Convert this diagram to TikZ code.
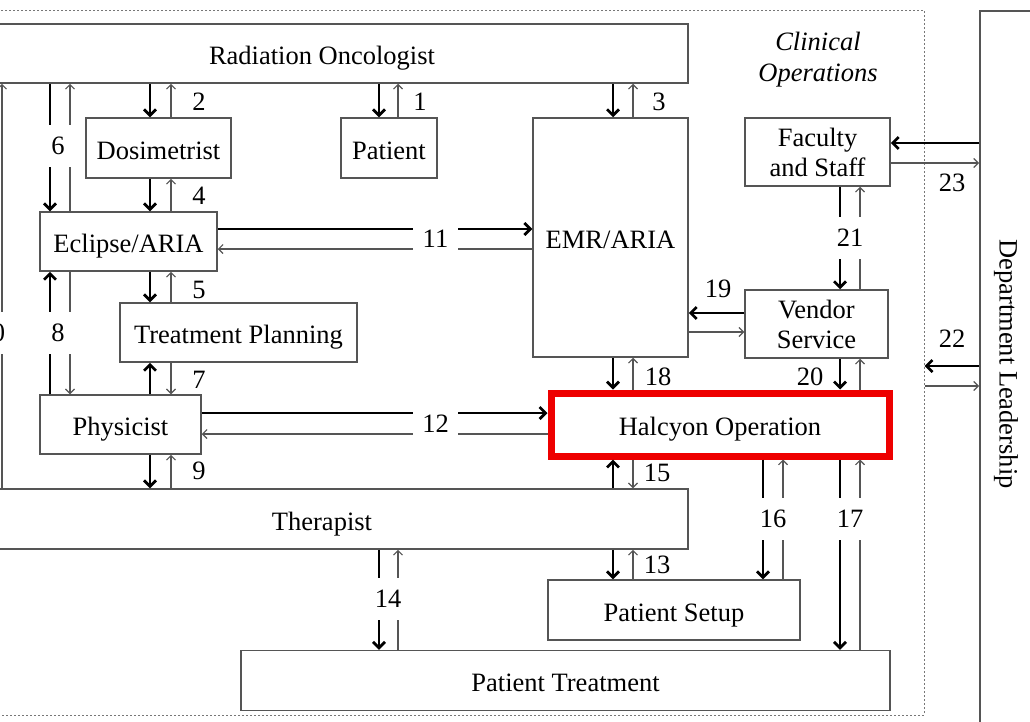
\documentclass[tikz,border=0pt]{standalone}
\usepackage{fontspec}
\setmainfont{Liberation Serif}
\usetikzlibrary{arrows.meta}
\definecolor{edgecol}{HTML}{555555}
\definecolor{thincol}{HTML}{555555}
\definecolor{dashcol}{HTML}{777777}
\definecolor{hred}{HTML}{EE0000}
\begin{document}
\begin{tikzpicture}[x=1pt,y=-1pt,
 every node/.style={font=\fontsize{26.5}{30}\selectfont},
 box/.style={draw=edgecol, line width=1.5pt, rectangle, inner sep=0pt, fill=white},
 onel/.style={text height=22pt, text depth=0pt},
 thk/.style={line width=2.8pt, black, -{Straight Barb[length=6pt,width=12pt]}},
 thn/.style={line width=1.1pt, thincol, -{Straight Barb[length=4.5pt,width=9pt]}},
 lbl/.style={inner sep=1pt},
 gaplbl/.style={fill=white, inner sep=0pt, minimum width=28pt, minimum height=42pt}
]
\useasboundingbox (0,0) rectangle (1030,721);
\clip (0,0) rectangle (1030,721);

% clinical operations frame
\node[draw=dashcol, line width=1pt, dash pattern=on 2pt off 2pt, inner sep=0pt,
      minimum width=934pt, minimum height=705pt] (clin) at (457,362.5) {};
\node[align=center, font=\fontsize{26.5}{31}\selectfont\itshape] (co) at (818,59.5) {Clinical\\Operations};

% boxes
\node[box, onel, minimum width=732pt, minimum height=59pt] (ro) at (322,53.5) {Radiation Oncologist};
\node[box, onel, minimum width=732pt, minimum height=60pt] (ther) at (322,519) {Therapist};
\node[box, onel, minimum width=145pt, minimum height=60pt] (dos) at (158.5,148) {Dosimetrist};
\node[box, onel, minimum width=96pt, minimum height=60pt] (pat) at (389,148) {Patient};
\node[box, onel, minimum width=155pt, minimum height=239pt] (emr) at (610.5,237.5) {EMR/ARIA};
\node[box, minimum width=145pt, minimum height=68pt, align=center] (fac) at (817.5,152) {Faculty\\and Staff};
\node[box, onel, minimum width=177pt, minimum height=59pt] (ecl) at (128.5,241.5) {Eclipse/ARIA};
\node[box, onel, minimum width=237pt, minimum height=59pt] (tp) at (238.5,332.5) {Treatment Planning};
\node[box, minimum width=143pt, minimum height=68pt, align=center] (ven) at (816.5,324) {Vendor\\Service};
\node[box, onel, minimum width=161pt, minimum height=59pt] (phy) at (120.5,424.5) {Physicist};
\node[draw=hred, onel, line width=7pt, fill=white, inner sep=0pt, minimum width=338pt, minimum height=63pt] (hal) at (720,424.5) {Halcyon Operation};
\node[box, onel, minimum width=252pt, minimum height=60pt] (ps) at (674,610) {Patient Setup};
\node[box, onel, minimum width=649pt, minimum height=60pt] (pt) at (565.5,680.5) {Patient Treatment};
\node[box, minimum width=54pt, minimum height=800pt, anchor=north west] (dl) at (979,10) {};
\node[rotate=-90] (dlt) at (1006,364) {Department Leadership};

% guide coordinates
\coordinate (xa) at (-18,0);
\coordinate (xb) at (2,0);
\coordinate (x50) at (50,0);
\coordinate (x70) at (70,0);
\coordinate (x150) at (150,0);
\coordinate (x171) at (171,0);
\coordinate (x379) at (379,0);
\coordinate (x398) at (398,0);
\coordinate (x613) at (613,0);
\coordinate (x633) at (633,0);
\coordinate (x763) at (763,0);
\coordinate (x783) at (783,0);
\coordinate (x840) at (840,0);
\coordinate (x860) at (860,0);
\coordinate (y143) at (0,143);
\coordinate (y163) at (0,163);
\coordinate (y229) at (0,229);
\coordinate (y249) at (0,249);
\coordinate (y313) at (0,313);
\coordinate (y332) at (0,332);
\coordinate (y366) at (0,366);
\coordinate (y386) at (0,386);
\coordinate (y413) at (0,413);
\coordinate (y434) at (0,434);

% 1
\draw[thk] (x379 |- ro.south) -- (x379 |- pat.north);
\draw[thn] (x398 |- pat.north) -- (x398 |- ro.south);
% 2
\draw[thk] (x150 |- ro.south) -- (x150 |- dos.north);
\draw[thn] (x171 |- dos.north) -- (x171 |- ro.south);
% 3
\draw[thk] (x613 |- ro.south) -- (x613 |- emr.north);
\draw[thn] (x633 |- emr.north) -- (x633 |- ro.south);
% 4
\draw[thk] (x150 |- dos.south) -- (x150 |- ecl.north);
\draw[thn] (x171 |- ecl.north) -- (x171 |- dos.south);
% 5
\draw[thk] (x150 |- ecl.south) -- (x150 |- tp.north);
\draw[thn] (x171 |- tp.north) -- (x171 |- ecl.south);
% 6
\draw[thk] (x50 |- ro.south) -- (x50 |- ecl.north);
\draw[thn] (x70 |- ecl.north) -- (x70 |- ro.south);
% 7
\draw[thk] (x150 |- phy.north) -- (x150 |- tp.south);
\draw[thn] (x171 |- tp.south) -- (x171 |- phy.north);
% 8
\draw[thk] (x50 |- phy.north) -- (x50 |- ecl.south);
\draw[thn] (x70 |- ecl.south) -- (x70 |- phy.north);
% 9
\draw[thk] (x150 |- phy.south) -- (x150 |- ther.north);
\draw[thn] (x171 |- ther.north) -- (x171 |- phy.south);
% 10
\draw[thk] (xa |- ro.south) -- (xa |- ther.north);
\draw[thn] (xb |- ther.north) -- (xb |- ro.south);
% 11
\draw[thk] (ecl.east |- y229) -- (emr.west |- y229);
\draw[thn] (emr.west |- y249) -- (ecl.east |- y249);
% 12
\draw[thk] (phy.east |- y413) -- (hal.west |- y413);
\draw[thn] (hal.west |- y434) -- (phy.east |- y434);
% 13
\draw[thk] (x613 |- ther.south) -- (x613 |- ps.north);
\draw[thn] (x633 |- ps.north) -- (x633 |- ther.south);
% 14
\draw[thk] (x379 |- ther.south) -- (x379 |- pt.north);
\draw[thn] (x398 |- pt.north) -- (x398 |- ther.south);
% 15
\draw[thk] (x613 |- ther.north) -- (x613 |- hal.south);
\draw[thn] (x633 |- hal.south) -- (x633 |- ther.north);
% 16
\draw[thk] (x763 |- hal.south) -- (x763 |- ps.north);
\draw[thn] (x783 |- ps.north) -- (x783 |- hal.south);
% 17
\draw[thk] (x840 |- hal.south) -- (x840 |- pt.north);
\draw[thn] (x860 |- pt.north) -- (x860 |- hal.south);
% 18
\draw[thk] (x613 |- emr.south) -- (x613 |- hal.north);
\draw[thn] (x633 |- hal.north) -- (x633 |- emr.south);
% 19
\draw[thk] (ven.west |- y313) -- (emr.east |- y313);
\draw[thn] (emr.east |- y332) -- (ven.west |- y332);
% 20
\draw[thk] (x840 |- ven.south) -- (x840 |- hal.north);
\draw[thn] (x860 |- hal.north) -- (x860 |- ven.south);
% 21
\draw[thk] (x840 |- fac.south) -- (x840 |- ven.north);
\draw[thn] (x860 |- ven.north) -- (x860 |- fac.south);
% 22
\draw[thk] (dl.west |- y366) -- (clin.east |- y366);
\draw[thn] (clin.east |- y386) -- (dl.west |- y386);
% 23
\draw[thk] (dl.west |- y143) -- (fac.east |- y143);
\draw[thn] (fac.east |- y163) -- (dl.west |- y163);

% labels
\node[lbl] (l1) at (420,102) {1};
\node[lbl] (l2) at (199,102) {2};
\node[lbl] (l3) at (659,102) {3};
\node[lbl] (l4) at (199,196) {4};
\node[lbl] (l5) at (199,290) {5};
\node[gaplbl] (l6) at (58,146) {6};
\node[lbl] (l7) at (199,380) {7};
\node[gaplbl] (l8) at (58,332.5) {8};
\node[lbl] (l9) at (199,471) {9};
\node[gaplbl] (l10) at (-8,332.5) {10};
\node[gaplbl, minimum width=45pt, minimum height=32pt] (l11) at (435.5,239) {11};
\node[gaplbl, minimum width=45pt, minimum height=32pt] (l12) at (435.5,423.5) {12};
\node[lbl] (l13) at (657,565) {13};
\node[gaplbl] (l14) at (388,599) {14};
\node[lbl] (l15) at (657,473) {15};
\node[gaplbl] (l16) at (773,518.5) {16};
\node[gaplbl] (l17) at (850,519) {17};
\node[lbl] (l18) at (658,377) {18};
\node[lbl] (l19) at (718,289) {19};
\node[lbl] (l20) at (810,377) {20};
\node[gaplbl] (l21) at (850,237.5) {21};
\node[lbl] (l22) at (952,339) {22};
\node[lbl] (l23) at (952,183) {23};
\end{tikzpicture}
\end{document}
